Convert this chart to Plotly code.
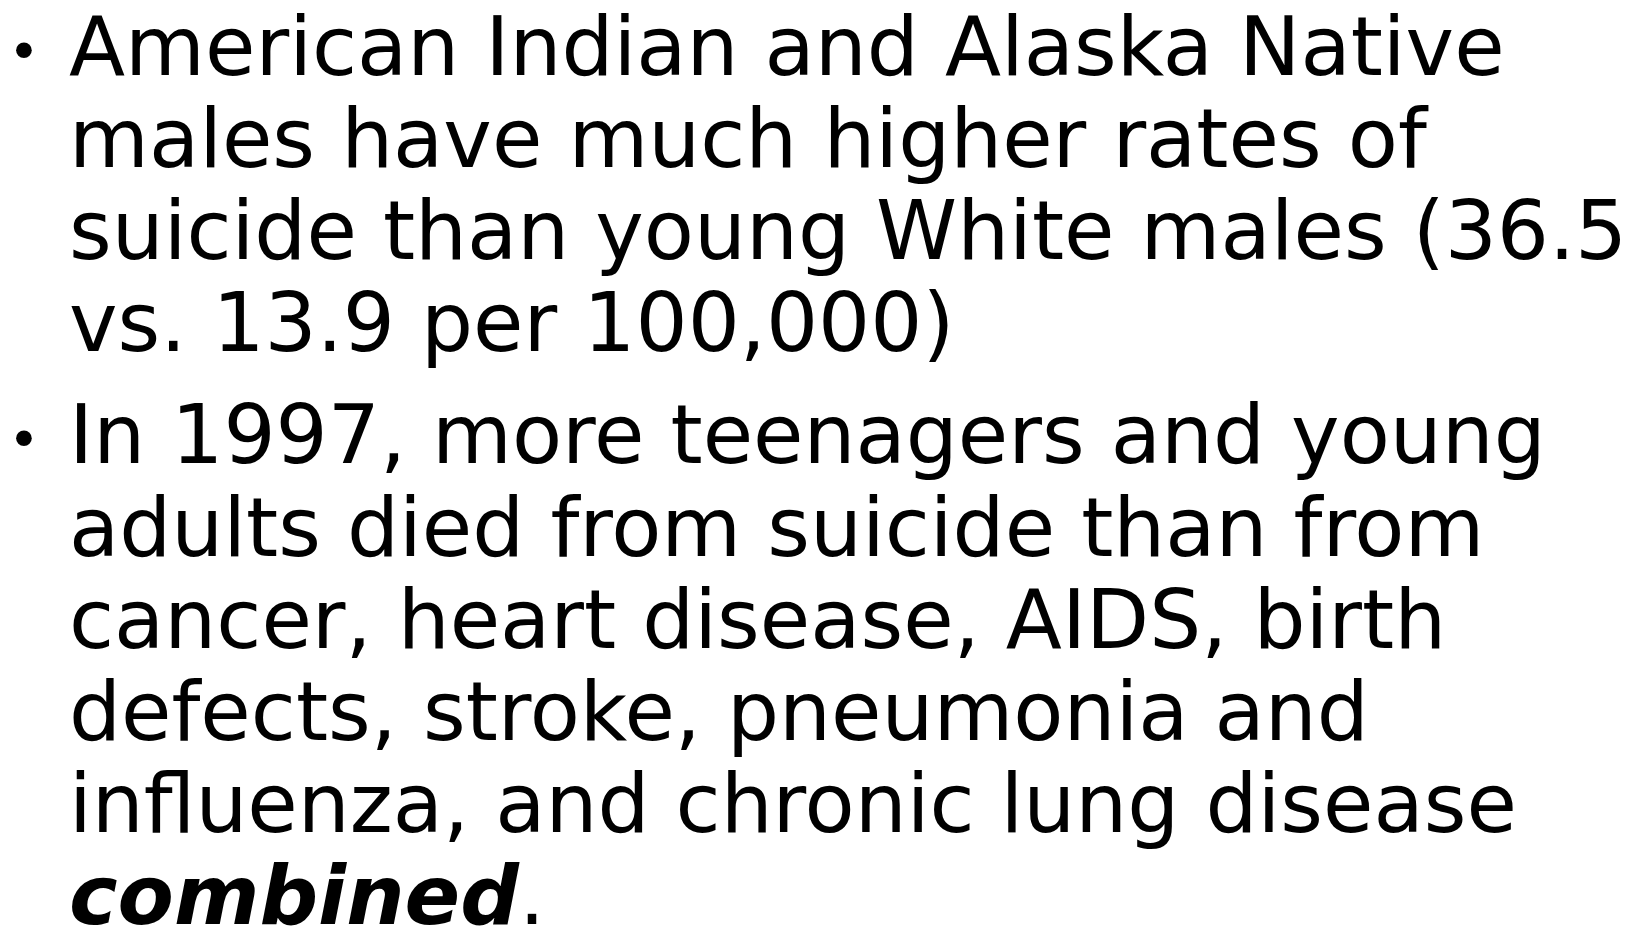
import plotly.graph_objects as go

# Slide content: two bullets, each a list of wrapped lines
bullet_1_lines = [
    "American Indian and Alaska Native",
    "males have much higher rates of",
    "suicide than young White males (36.5",
    "vs. 13.9 per 100,000)",
]
bullet_2_lines = [
    "In 1997, more teenagers and young",
    "adults died from suicide than from",
    "cancer, heart disease, AIDS, birth",
    "defects, stroke, pneumonia and",
    "influenza, and chronic lung disease",
    "<b><i>combined</i></b>.",
]
bullets = [bullet_1_lines, bullet_2_lines]

W, H = 1637, 928
FONT = "DejaVu Sans"
SIZE = 82
LINE_GAP = 92.1
BULLET_GAP = 112
FIRST_BASELINE = 67
TEXT_X = 60
BULLET_X = 16
MID_OFFSET = 0.346 * SIZE

annotations = []
baseline = FIRST_BASELINE
for bi, lines in enumerate(bullets):
    if bi > 0:
        baseline += BULLET_GAP - LINE_GAP
    for li, line in enumerate(lines):
        mid = baseline - MID_OFFSET
        if li == 0:
            annotations.append(dict(
                x=BULLET_X, y=baseline - 24, xref="x", yref="y",
                text="•", showarrow=False, xanchor="center", yanchor="middle",
                font=dict(family=FONT, size=54, color="#000000"), borderpad=0,
            ))
        annotations.append(dict(
            x=TEXT_X, y=mid, xref="x", yref="y",
            text=line, showarrow=False, xanchor="left", yanchor="middle",
            align="left", font=dict(family=FONT, size=SIZE, color="#000000"),
            borderpad=0,
        ))
        baseline += LINE_GAP

fig = go.Figure()
fig.update_layout(
    width=W, height=H,
    margin=dict(l=0, r=0, t=0, b=0),
    paper_bgcolor="#ffffff", plot_bgcolor="#ffffff",
    xaxis=dict(range=[0, W], visible=False, fixedrange=True),
    yaxis=dict(range=[H, 0], visible=False, fixedrange=True),
    showlegend=False,
    annotations=annotations,
)
fig.write_html("out.html", config={"displayModeBar": False})
